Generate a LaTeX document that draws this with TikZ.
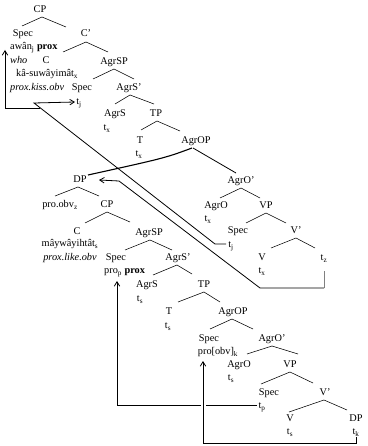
\documentclass[tikz,border=0pt]{standalone}
\usepackage{fontspec}
\setmainfont{Liberation Serif}
\usetikzlibrary{calc,arrows.meta}
\newcommand\sbs[1]{\textsubscript{#1}}
\begin{document}
\begin{tikzpicture}[x=1pt,y=-1pt,
  lab/.style={inner sep=0pt,text height=7pt,text depth=1.5pt,font=\fontsize{10.3}{11}\selectfont},
  labw/.style={lab,anchor=west},
  edge/.style={line width=0.55pt},
  mv/.style={line width=0.8pt},
  tip/.style={-{Straight Barb[length=4.5pt,width=5.5pt]}}]
\useasboundingbox (0,0) rectangle (367,446);
% ---------- upper tree ----------
\node[lab] (CP) at (40,10) {CP};
\node[lab] (Spec1) at (23,34) {Spec};
\node[labw] (awan) at (10,47) {awân\sbs{j} \textbf{prox}};
\node[lab] (Cbar) at (86,34) {C'};
\node[labw] (who) at (10,61) {\textit{who}};
\node[lab] (C1) at (46,61) {C};
\node[labw] (kas) at (16,74) {kâ-suwâyimât\sbs{x}};
\node[labw] (pko) at (10,88) {\textit{prox.kiss.obv}};
\node[lab] (Spec2) at (82,88) {Spec};
\node[lab] (AgrSP) at (114,62) {AgrSP};
\node[lab] (AgrSbar) at (129,88) {AgrS'};
\node[lab] (tj1) at (79,102) {t\sbs{j}};
\node[lab] (AgrS) at (115,114) {AgrS};
\node[lab] (tx1) at (107,128) {t\sbs{x}};
\node[lab] (TP) at (156,114) {TP};
\node[lab] (T1) at (140,141) {T};
\node[lab] (tx2) at (139,154) {t\sbs{x}};
\node[lab] (AgrOP) at (196,141) {AgrOP};
\node[lab] (AgrObar) at (241,181) {AgrO'};
\node[lab] (AgrO) at (216,206) {AgrO};
\node[lab] (tx3) at (208,219) {t\sbs{x}};
\node[lab] (VP) at (266,206) {VP};
\node[lab] (Spec3) at (238,231) {Spec};
\node[lab] (tj2) at (231,245) {t\sbs{j}};
\node[lab] (Vbar) at (296,231) {V'};
\node[lab] (V1) at (262,258) {V};
\node[lab] (tx4) at (262,271) {t\sbs{x}};
\node[lab] (tz) at (324,258) {t\sbs{z}};
% ---------- lower tree ----------
\node[lab] (DP) at (80,180) {DP};
\node[lab] (proobv) at (60,205) {pro.obv\sbs{z}};
\node[lab] (CP2) at (107,205) {CP};
\node[lab] (C2) at (77,232) {C};
\node[lab] (may) at (70,244) {mâywâyihtât\sbs{s}};
\node[lab] (plo) at (70,258) {\textit{prox.like.obv}};
\node[lab] (Spec4) at (116,258) {Spec};
\node[labw] (prop) at (104,271) {pro\sbs{p} \textbf{prox}};
\node[lab] (AgrSP2) at (149,233) {AgrSP};
\node[lab] (AgrSbar2) at (178,258) {AgrS'};
\node[lab] (AgrS2) at (147,285) {AgrS};
\node[lab] (ts1) at (140,299) {t\sbs{s}};
\node[lab] (TP2) at (204,285) {TP};
\node[lab] (T2) at (169,312) {T};
\node[lab] (ts2) at (168,326) {t\sbs{s}};
\node[lab] (AgrOP2) at (233,312) {AgrOP};
\node[lab] (Spec5) at (209,339) {Spec};
\node[lab] (proobvk) at (218,352) {pro[obv]\sbs{k}};
\node[lab] (AgrObar2) at (272,339) {AgrO'};
\node[lab] (AgrO2) at (239,365) {AgrO};
\node[lab] (ts3) at (231,378) {t\sbs{s}};
\node[lab] (VP2) at (290,365) {VP};
\node[lab] (Spec6) at (269,393) {Spec};
\node[lab] (tp) at (262,406) {t\sbs{p}};
\node[lab] (Vbar2) at (325,393) {V'};
\node[lab] (V2) at (290,419) {V};
\node[lab] (ts4) at (290,432) {t\sbs{s}};
\node[lab] (DP2) at (356,419) {DP};
\node[lab] (tk) at (356,432) {t\sbs{k}};
% ---------- tree edges ----------
\newcommand\tbranch[4]{\draw[edge] ($(#2)+(#1)$) -- ($(#4)+(#3)$);}
\tbranch{2,7}{CP}{-1,-8}{Spec1}
\tbranch{2,7}{CP}{-20,-7}{Cbar}
\tbranch{0,8}{Cbar}{17,-9}{C1}
\tbranch{0,8}{Cbar}{-6,-10}{AgrSP}
\tbranch{0,7}{AgrSP}{11,-9}{Spec2}
\tbranch{0,7}{AgrSP}{5,-9}{AgrSbar}
\tbranch{1,7}{AgrSbar}{0,-10}{AgrS}
\tbranch{1,7}{AgrSbar}{-2,-10}{TP}
\tbranch{1,7}{TP}{1,-11}{T1}
\tbranch{1,7}{TP}{-16,-10}{AgrOP}
\draw[line width=1.1pt] ($(AgrOP)+(-4,7)$) .. controls (165,158) .. ($(DP)+(8,-5)$);
\draw[line width=0.8pt] ($(AgrOP)+(-3,7)$) -- ($(AgrObar)+(-5,-8)$);
\tbranch{0,7}{AgrObar}{4,-8}{AgrO}
\tbranch{0,7}{AgrObar}{-6,-8}{VP}
\tbranch{0,7}{VP}{8,-8}{Spec3}
\tbranch{0,7}{VP}{-10,-8}{Vbar}
\tbranch{0,7}{Vbar}{9,-10}{V1}
\tbranch{0,7}{Vbar}{-9,-10}{tz}
\tbranch{-2,7}{DP}{-5,-9}{proobv}
\tbranch{-2,7}{DP}{-8,-9}{CP2}
\tbranch{0,7}{CP2}{8,-9}{C2}
\tbranch{0,7}{CP2}{-19,-11}{AgrSP2}
\tbranch{1,7}{AgrSP2}{9,-8}{Spec4}
\tbranch{1,7}{AgrSP2}{-6,-8}{AgrSbar2}
\tbranch{-1,7}{AgrSbar2}{6,-10}{AgrS2}
\tbranch{-1,7}{AgrSbar2}{-12,-11}{TP2}
\tbranch{0,7}{TP2}{9,-10}{T2}
\tbranch{0,7}{TP2}{-13,-10}{AgrOP2}
\tbranch{-1,7}{AgrOP2}{1,-10}{Spec5}
\tbranch{-1,7}{AgrOP2}{-19,-10}{AgrObar2}
\tbranch{0,7}{AgrObar2}{8,-11}{AgrO2}
\tbranch{0,7}{AgrObar2}{8,-11}{VP2}
\tbranch{0,7}{VP2}{-8,-9}{Spec6}
\tbranch{0,7}{VP2}{-12,-10}{Vbar2}
\tbranch{-1,7}{Vbar2}{-1,-7}{V2}
\tbranch{-1,7}{Vbar2}{-9,-9}{DP2}
% ---------- movement ----------
% j chain
\coordinate (jv) at (34,103);
\draw[mv,tip] ($(tj2)+(-5,-1)$) -- ++(-11,0) -- (jv) -- ($(tj1)+(-4,0)$);
\draw[mv,tip] (40,108) -- (5,108) -- ($(awan.west)+(-5,3)$);
% z chain
\coordinate (zc) at (260,288);
\draw[line width=0.4pt,gray] ($(tz)+(0,13)$) -- ($(tz)+(0,30)$);
\draw[mv,tip] ($(tz)+(0,30)$) -- (zc) -- (119,181) -- ($(DP)+(19,0)$);
% p chain
\coordinate (pc) at (117,405);
\draw[mv,tip] ($(tp)+(-5,-1)$) -- (pc) -- ($(prop.west)+(13,10)$);
% k chain
\coordinate (kc) at (203,443);
\draw[mv,tip,preaction={draw,white,line width=5pt,-}] ($(tk)+(0,5)$) -- ++(0,6) -- (kc) -- ($(proobvk)+(-15,9)$);
\end{tikzpicture}
\end{document}
